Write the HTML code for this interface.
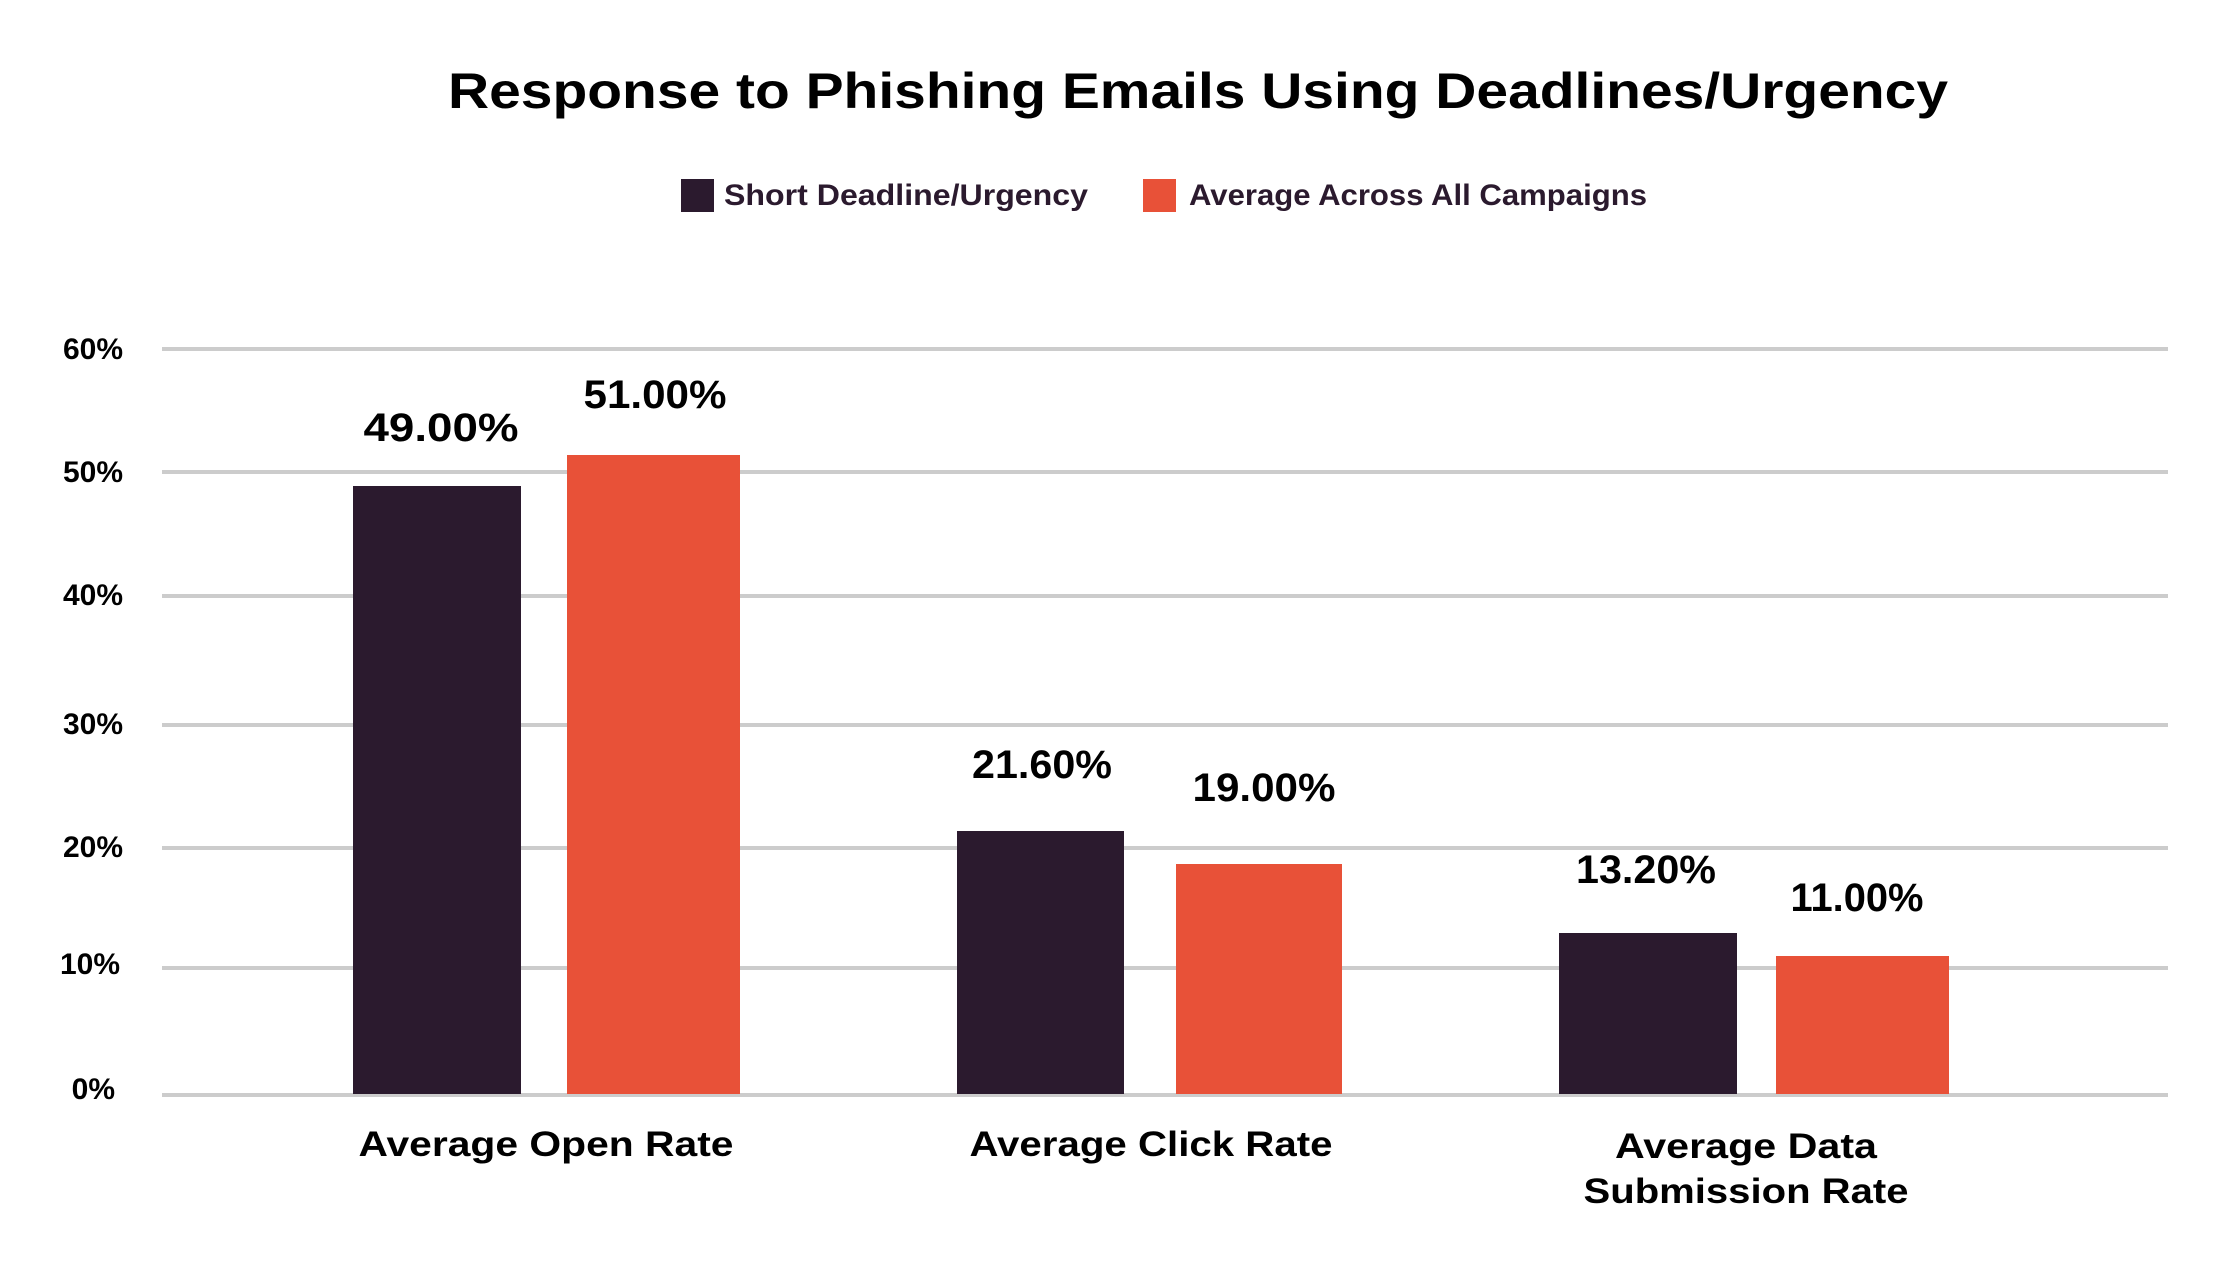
<!DOCTYPE html>
<html><head><meta charset="utf-8"><style>html,body{margin:0;padding:0;background:#fff}svg{display:block}</style></head>
<body>
<svg width="2233" height="1272" viewBox="0 0 2233 1272" xmlns="http://www.w3.org/2000/svg" font-family="Liberation Sans, sans-serif" font-weight="bold">
<rect width="2233" height="1272" fill="#fff"/>
<text x="1198" y="108" font-size="50" text-anchor="middle" textLength="1500" lengthAdjust="spacingAndGlyphs" fill="#000">Response to Phishing Emails Using Deadlines/Urgency</text>
<rect x="681" y="179" width="33" height="33" fill="#2b1a2e"/>
<text x="724" y="205" font-size="30" textLength="364" lengthAdjust="spacingAndGlyphs" fill="#2b1a2e">Short Deadline/Urgency</text>
<rect x="1143" y="179" width="33" height="33" fill="#e85138"/>
<text x="1189" y="205" font-size="30" textLength="458" lengthAdjust="spacingAndGlyphs" fill="#2b1a2e">Average Across All Campaigns</text>
<g stroke="#cccccc" stroke-width="4">
<line x1="162" x2="2168" y1="349" y2="349"/>
<line x1="162" x2="2168" y1="472" y2="472"/>
<line x1="162" x2="2168" y1="596" y2="596"/>
<line x1="162" x2="2168" y1="725" y2="725"/>
<line x1="162" x2="2168" y1="848" y2="848"/>
<line x1="162" x2="2168" y1="968" y2="968"/>
<line x1="162" x2="2168" y1="1095" y2="1095"/>
</g>
<g font-size="30" fill="#000" text-anchor="end">
<text x="123" y="359">60%</text>
<text x="123" y="482">50%</text>
<text x="123" y="605">40%</text>
<text x="123" y="734">30%</text>
<text x="123" y="857">20%</text>
<text x="120" y="974">10%</text>
<text x="115" y="1099">0%</text>
</g>
<g fill="#2b1a2e">
<rect x="353" y="486" width="168" height="608"/>
<rect x="957" y="831" width="167" height="263"/>
<rect x="1559" y="933" width="178" height="161"/>
</g>
<g fill="#e85138">
<rect x="567" y="455" width="173" height="639"/>
<rect x="1176" y="864" width="166" height="230"/>
<rect x="1776" y="956" width="173" height="138"/>
</g>
<g font-size="40" fill="#000" text-anchor="middle">
<text x="441" y="441" textLength="155" lengthAdjust="spacingAndGlyphs">49.00%</text>
<text x="655" y="408" textLength="143" lengthAdjust="spacingAndGlyphs">51.00%</text>
<text x="1042" y="778" textLength="140" lengthAdjust="spacingAndGlyphs">21.60%</text>
<text x="1264" y="801" textLength="143" lengthAdjust="spacingAndGlyphs">19.00%</text>
<text x="1646" y="883" textLength="140" lengthAdjust="spacingAndGlyphs">13.20%</text>
<text x="1857" y="911" textLength="133" lengthAdjust="spacingAndGlyphs">11.00%</text>
</g>
<g font-size="35" fill="#000" text-anchor="middle">
<text x="546" y="1156" textLength="375" lengthAdjust="spacingAndGlyphs">Average Open Rate</text>
<text x="1151" y="1156" textLength="363" lengthAdjust="spacingAndGlyphs">Average Click Rate</text>
<text x="1746" y="1158" textLength="262" lengthAdjust="spacingAndGlyphs">Average Data</text>
<text x="1746" y="1203" textLength="325" lengthAdjust="spacingAndGlyphs">Submission Rate</text>
</g>
</svg>
</body></html>
